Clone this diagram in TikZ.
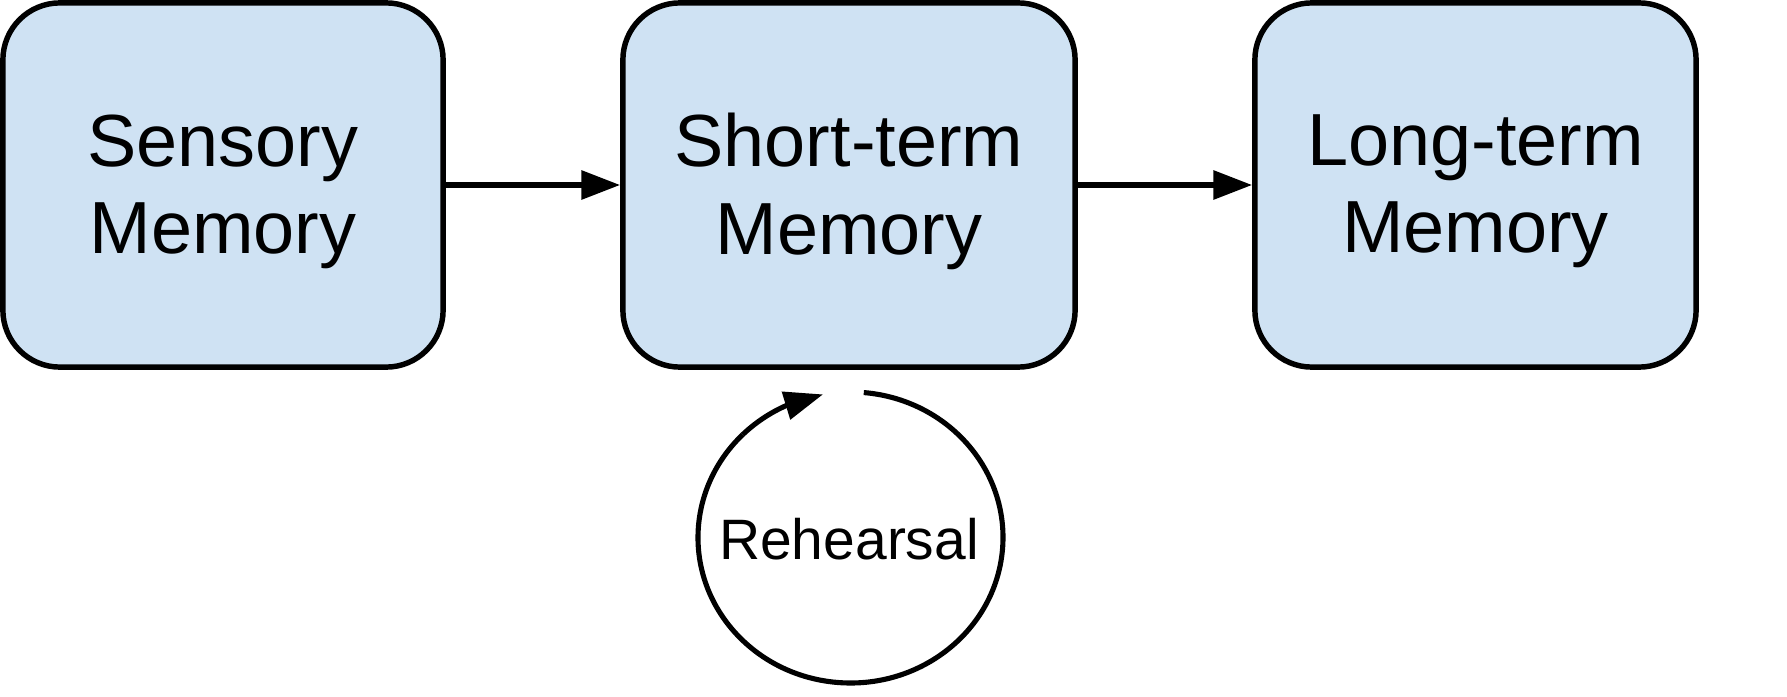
\documentclass[tikz,border=0pt]{standalone}
\usepackage{fontspec}
\setmainfont{Liberation Sans}
\usetikzlibrary{arrows.meta,bending}
\definecolor{boxfill}{HTML}{CFE2F3}
\begin{document}
\begin{tikzpicture}[x=0.01cm,y=0.01cm,
  membox/.style={draw=black, fill=boxfill, rounded corners=0.57cm, minimum height=3.64cm, inner sep=0pt, line width=1.55pt},
  lbl/.style={align=center, font=\fontsize{21}{24.75}\selectfont, inner sep=0pt, yshift=-0.064cm},
  reh/.style={font=\fontsize{16.2}{19}\selectfont, inner sep=0pt},
  arr/.style={-{Triangle[length=11pt,width=8pt]}, line width=1.55pt},
  ]
\useasboundingbox (0,0) rectangle (1787,-697);
\node[membox, minimum width=4.40cm, label={[lbl]center:{Sensory\\Memory}}] (sm) at (223,-185) {};
\node[membox, minimum width=4.52cm, label={[lbl]center:{Short-term\\Memory}}] (stm) at (849,-185) {};
\node[membox, minimum width=4.41cm, label={[lbl]center:{Long-term\\Memory}}] (ltm) at (1475.5,-185) {};
\draw[arr] (sm.east) -- (stm.west);
\draw[arr] (stm.east) -- (ltm.west);
\node[reh] (rh) at (849,-539) {Rehearsal};
\coordinate (rc) at (850.5,-537.5);
\draw[line width=1.45pt] ([shift={(85:152.5 and 145.5)}]rc) arc[start angle=85, end angle=-225, x radius=152.5, y radius=145.5] coordinate (ra);
\draw[arr, line width=1.45pt] (ra) arc[start angle=-225, end angle=-259.6, x radius=152.5, y radius=145.5];
\end{tikzpicture}
\end{document}
